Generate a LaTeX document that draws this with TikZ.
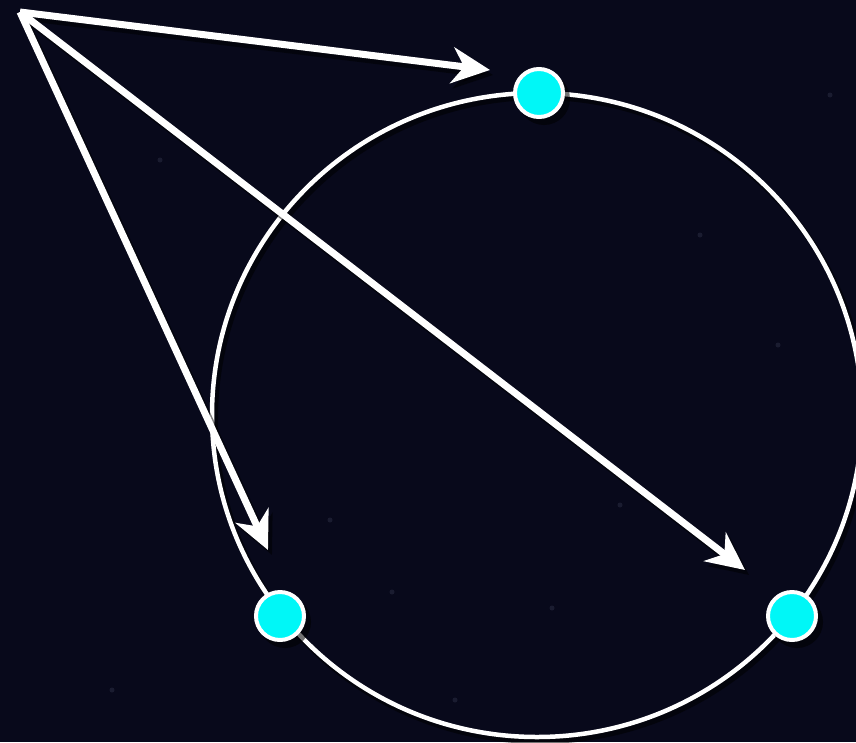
\documentclass[tikz,border=0pt]{standalone}
\usetikzlibrary{arrows.meta}
\definecolor{bg}{HTML}{08091B}
\definecolor{dotc}{HTML}{00F7F7}
\definecolor{star}{HTML}{1A1C30}
\tikzset{
  ring/.style={draw=white, line width=4.5pt},
  ringshadow/.style={draw=black, line width=6pt, opacity=0.55},
  ptr/.style={draw=white, line width=7pt, -{Stealth[length=38pt,width=36pt,inset=12pt]}},
  ptrshadow/.style={draw=black, line width=7pt, opacity=0.5, -{Stealth[length=38pt,width=36pt,inset=12pt]}},
  pt/.style={circle, fill=dotc, draw=white, line width=4pt, minimum size=48pt, inner sep=0pt},
  ptshadow/.style={circle, fill=black, opacity=0.55, minimum size=52pt, inner sep=0pt},
  speck/.style={circle, fill=star, inner sep=0pt, minimum size=5pt}
}
\begin{document}
\begin{tikzpicture}[x=1pt, y=-1pt]
\fill[bg] (0,0) rectangle (856,742);
\useasboundingbox (0,0) rectangle (856,742);
% faint stars
\foreach \sx/\sy in {392/592, 552/608, 830/95, 778/345, 160/160, 112/690, 455/700, 620/505, 330/520, 700/235}
  \node[speck] at (\sx,\sy) {};
% coordinates
\coordinate (src) at (20,12);
\coordinate (tipA) at (490,70);
\coordinate (tipB) at (268,550);
\coordinate (tipC) at (745,570);
% ring
\draw[ringshadow] (540,419) ellipse [x radius=325, y radius=322];
\draw[ring] (537,415) ellipse [x radius=325, y radius=322];
% arrow shadows
\draw[ptrshadow] ([shift={(3,5)}]src) -- ([shift={(3,5)}]tipA);
\draw[ptrshadow] ([shift={(4,5)}]src) -- ([shift={(4,5)}]tipB);
\draw[ptrshadow] ([shift={(4,5)}]src) -- ([shift={(4,5)}]tipC);
% arrows
\draw[ptr] (src) -- (tipA);
\draw[ptr] (src) -- (tipB);
\draw[ptr] (src) -- (tipC);
% dots
\node[ptshadow] at (544,99) {};
\node[ptshadow] at (285,622) {};
\node[ptshadow] at (797,622) {};
\node[pt] (dA) at (539,93) {};
\node[pt] (dB) at (280,616) {};
\node[pt] (dC) at (792,616) {};
\end{tikzpicture}
\end{document}
